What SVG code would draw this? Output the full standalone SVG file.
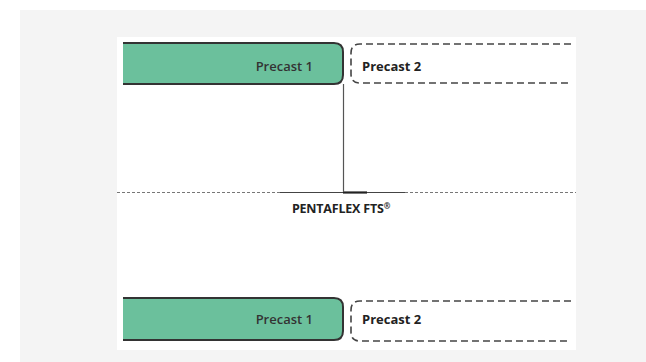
<svg xmlns="http://www.w3.org/2000/svg" width="646" height="362" viewBox="0 0 646 362">
<style>
.green{fill:#6bc09c;stroke:#333;stroke-width:2}
.dash{fill:#fff;stroke:#444;stroke-width:1.6;stroke-dasharray:7,4}
.lbl{font-family:"Open Sans","Noto Sans",sans-serif;font-size:13px;fill:#333;font-weight:600}
.b{font-weight:bold;fill:#222}
</style>
<rect x="0" y="0" width="646" height="362" fill="#fff"/>
<rect x="20" y="10" width="626" height="352" fill="#f4f4f4"/>
<rect x="117" y="37" width="459" height="313" fill="#fff"/>
<g id="connectors">
<line x1="117" y1="192.5" x2="280" y2="192.5" stroke="#777" stroke-width="1" stroke-dasharray="3,2"/>
<line x1="405" y1="192.5" x2="576" y2="192.5" stroke="#777" stroke-width="1" stroke-dasharray="3,2"/>
<line x1="280" y1="192.5" x2="405" y2="192.5" stroke="#444" stroke-width="1.2"/>
<line x1="343" y1="192.5" x2="367" y2="192.5" stroke="#222" stroke-width="2.2"/>
<line x1="343.5" y1="84" x2="343.5" y2="192" stroke="#555" stroke-width="1.2"/>
</g>
<g id="precast1-top">
<path class="green" d="M123 43 H334 Q343 43 343 52 V75 Q343 84 334 84 H123" />
<text class="lbl" x="313" y="71" text-anchor="end">Precast 1</text>
</g>
<g id="precast2-top">
<path class="dash" d="M571 44 H360 Q351 44 351 53 V74 Q351 83 360 83 H571"/>
<text class="lbl b" x="362" y="71">Precast 2</text>
</g>
<g id="pentaflex">
<text class="lbl b" x="341" y="213" text-anchor="middle" style="font-size:12.5px;letter-spacing:-0.2px">PENTAFLEX FTS<tspan style="font-size:8px" dy="-4">®</tspan></text>
</g>
<g id="precast1-bottom">
<path class="green" d="M123 298 H334 Q343 298 343 307 V331 Q343 340 334 340 H123"/>
<text class="lbl" x="313" y="324" text-anchor="end">Precast 1</text>
</g>
<g id="precast2-bottom">
<path class="dash" d="M571 301 H360 Q351 301 351 310 V332 Q351 341 360 341 H571"/>
<text class="lbl b" x="362" y="324">Precast 2</text>
</g>
</svg>
